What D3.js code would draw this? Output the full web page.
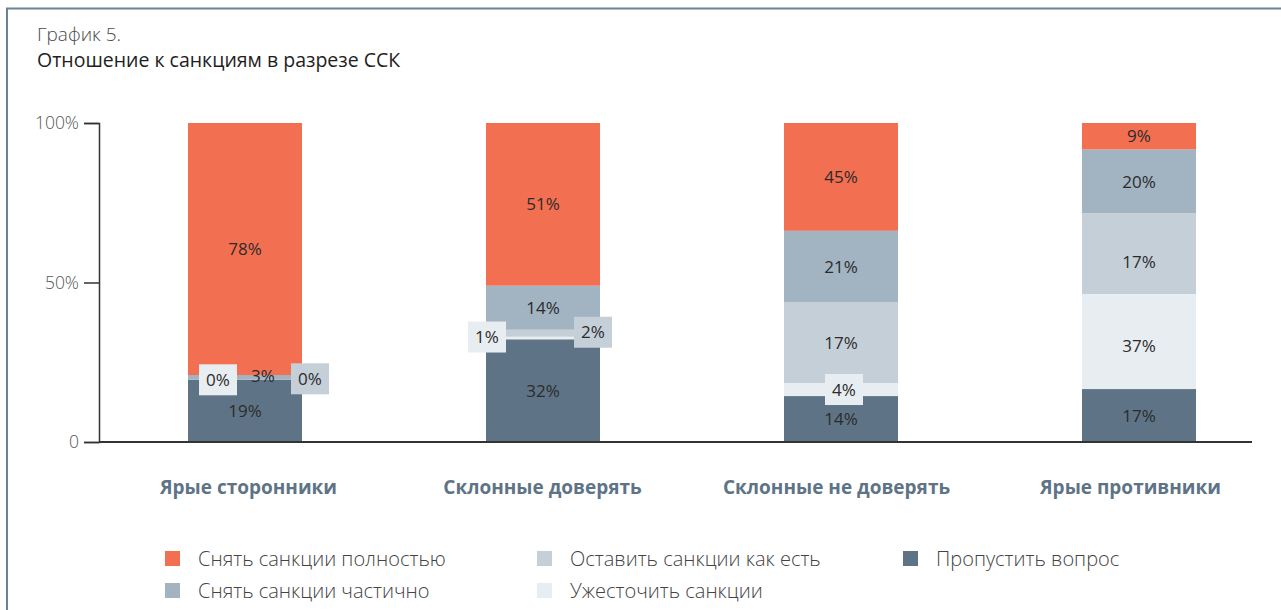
<!DOCTYPE html>
<html lang="ru">
<head>
<meta charset="utf-8">
<script src="https://cdn.jsdelivr.net/npm/d3@7"></script>
<style>
  body { margin: 0; background: #fff; }
  svg { display: block; font-family: "Open Sans", "Noto Sans", sans-serif; }
</style>
</head>
<body>
<div id="chart"></div>
<script>
// Groups (x axis)
const categories = ['Ярые сторонники', 'Склонные доверять', 'Склонные не доверять', 'Ярые противники'];

// Series, bottom of the stack first
const seriesKeys = ['skip', 'tighten', 'keep', 'partly', 'fully'];
const seriesNames = ['Пропустить вопрос', 'Ужесточить санкции', 'Оставить санкции как есть', 'Снять санкции частично', 'Снять санкции полностью'];

// Segment heights as drawn in the picture (%)
const skip    = [19.5, 32.2, 14.4, 16.6];
const tighten = [0,    0.8,  4.1,  29.8];
const keep    = [0,    2.2,  25.4, 25.3];
const partly  = [1.5,  13.8, 22.3, 20];
const fully   = [79,   51,   33.8, 8.3];

// Printed labels on the segments
const skipLabels    = ['19%', '32%', '14%', '17%'];
const tightenLabels = ['0%', '1%', '4%', '37%'];
const keepLabels    = ['0%', '2%', '17%', '17%'];
const partlyLabels  = ['3%', '14%', '21%', '20%'];
const fullyLabels   = ['78%', '51%', '45%', '9%'];

// Y axis ticks
const yTicks = [0, 50, 100];
const yTickLabels = ['0', '50%', '100%'];

const colors = {
  skip: '#5e7486',
  tighten: '#e8edf1',
  keep: '#c5cfd8',
  partly: '#a2b3c1',
  fully: '#f36f52'
};

// Legend layout: column by column
const legendOrder = ['fully', 'partly', 'keep', 'tighten', 'skip'];

const width = 1281, height = 610;

const rows = categories.map((c, i) => ({
  category: c,
  skip: skip[i], tighten: tighten[i], keep: keep[i], partly: partly[i], fully: fully[i]
}));
const labels = { skip: skipLabels, tighten: tightenLabels, keep: keepLabels, partly: partlyLabels, fully: fullyLabels };

const svg = d3.select('#chart').append('svg')
  .attr('width', width)
  .attr('height', height);

// frame
svg.append('path')
  .attr('d', `M7,${height} V8.5 H${width}`)
  .attr('fill', 'none')
  .attr('stroke', '#6b8394')
  .attr('stroke-width', 2);

// titles
svg.append('text')
  .attr('x', 37).attr('y', 41)
  .attr('fill', '#4a4a4a')
  .style('font-size', '19px')
  .style('font-weight', 300)
  .text('График 5.');
svg.append('text')
  .attr('x', 37).attr('y', 67)
  .attr('fill', '#1e1e1e')
  .style('font-size', '19.5px')
  .style('font-weight', 500)
  .text('Отношение к санкциям в разрезе ССК');

const x = d3.scalePoint().domain(categories).range([245, 1139]);
const xLabel = d3.scalePoint().domain(categories).range([248.5, 1130.5]);
const y = d3.scaleLinear().domain([0, 100]).range([442, 123]);
const barW = 114;

const stacked = d3.stack().keys(seriesKeys)(rows);

// bars
const layers = svg.append('g').selectAll('g')
  .data(stacked)
  .enter().append('g')
  .attr('fill', d => colors[d.key]);

layers.selectAll('rect')
  .data(d => d)
  .enter().append('rect')
  .attr('x', d => x(d.data.category) - barW / 2)
  .attr('y', d => y(d[1]))
  .attr('width', barW)
  .attr('height', d => y(d[0]) - y(d[1]));

// y axis
const yAxis = svg.append('g')
  .attr('transform', 'translate(99,0)')
  .call(d3.axisLeft(y).tickValues(yTicks).tickSize(15).tickPadding(5)
    .tickFormat((d, i) => yTickLabels[i]));
yAxis.select('.domain').attr('stroke', '#333').attr('stroke-width', 1.5);
yAxis.selectAll('.tick line').attr('stroke', '#333').attr('stroke-width', 1.5);
yAxis.selectAll('.tick text')
  .attr('fill', '#555')
  .style('font-size', '17.5px')
  .style('font-weight', 300)
  .style('font-family', '"Open Sans", sans-serif');

// baseline
svg.append('line')
  .attr('x1', 99).attr('x2', 1252)
  .attr('y1', y(0)).attr('y2', y(0))
  .attr('stroke', '#333')
  .attr('stroke-width', 2);

// category labels
svg.append('g').selectAll('text')
  .data(categories)
  .enter().append('text')
  .attr('x', d => xLabel(d))
  .attr('y', 494)
  .attr('text-anchor', 'middle')
  .attr('fill', '#5e7486')
  .style('font-size', '19px')
  .style('font-weight', 700)
  .text(d => d);

// labels that sit outside the segment centre: offsets from bar centre
const callouts = [
  { key: 'tighten', bar: 0, dx: -27, dy: 0, box: true },
  { key: 'keep', bar: 0, dx: 65, dy: -1, box: true },
  { key: 'partly', bar: 0, dx: 18, dy: -2, box: false },
  { key: 'tighten', bar: 1, dx: -56, dy: -1, box: true },
  { key: 'keep', bar: 1, dx: 50, dy: -1, box: true },
  { key: 'tighten', bar: 2, dx: 3, dy: 0, box: true },
  { key: 'keep', bar: 3, dx: 0, dy: 8, box: false },
  { key: 'tighten', bar: 3, dx: 0, dy: 4, box: false }
];

const labelData = [];
stacked.forEach(layer => {
  layer.forEach((seg, i) => {
    const c = callouts.find(o => o.key === layer.key && o.bar === i) || { dx: 0, dy: 0, box: false };
    labelData.push({
      key: layer.key,
      text: labels[layer.key][i],
      cx: x(seg.data.category) + c.dx,
      cy: (y(seg[0]) + y(seg[1])) / 2 + c.dy,
      box: c.box
    });
  });
});

const lab = svg.append('g').selectAll('g')
  .data(labelData)
  .enter().append('g')
  .attr('transform', d => `translate(${d.cx},${d.cy})`);

lab.filter(d => d.box).append('rect')
  .attr('x', -19).attr('y', -15.5)
  .attr('width', 38).attr('height', 31)
  .attr('fill', d => colors[d.key]);

lab.append('text')
  .attr('text-anchor', 'middle')
  .attr('dy', '0.36em')
  .attr('fill', '#2b2b2b')
  .style('font-size', '17px')
  .text(d => d.text);

// legend
const legendCols = [165, 537, 903];
const legend = svg.append('g').selectAll('g')
  .data(legendOrder)
  .enter().append('g')
  .attr('transform', (d, i) => `translate(${legendCols[Math.floor(i / 2)]},${551 + (i % 2) * 32})`);

legend.append('rect')
  .attr('width', 15).attr('height', 15)
  .attr('fill', d => colors[d]);

legend.append('text')
  .attr('x', 33).attr('y', 8)
  .attr('dy', '0.36em')
  .attr('fill', '#444')
  .style('font-size', '20px')
  .style('font-weight', 300)
  .text(d => seriesNames[seriesKeys.indexOf(d)]);
</script>
</body>
</html>
